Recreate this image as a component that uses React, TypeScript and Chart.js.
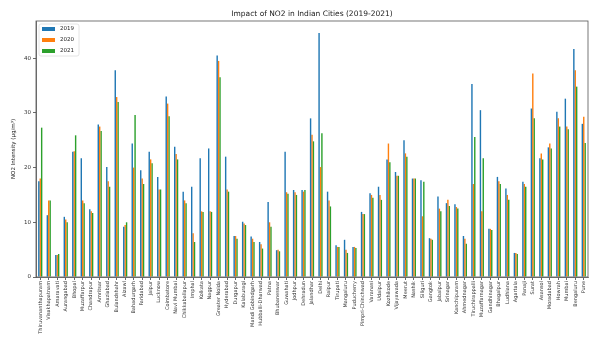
import React, { useEffect, useRef } from "react";
import { Chart, registerables } from "chart.js";

Chart.register(...registerables);

const cities = [
  "Thiruvananthapuram", "Visakhapatnam", "Amaravati", "Aurangabad", "Bhopal",
  "Muzaffarpur", "Chandrapur", "Amritsar", "Ghaziabad", "Bulandshahr",
  "Aizawl", "Bahadurgarh", "Faridabad", "Jaipur", "Lucknow",
  "Coimbatore", "Navi Mumbai", "Chikkaballapur", "Imphal", "Kolkata",
  "Nagpur", "Greater Noida", "Hyderabad", "Durgapur", "Kalaburagi",
  "Mandi Gobindgarh", "Hubballi-Dharwad", "Patna", "Bhubaneswar", "Guwahati",
  "Jodhpur", "Dehradun", "Jalandhar", "Delhi", "Raipur",
  "Tirupati", "Mangaluru", "Puducherry", "Pimpri-Chinchwad", "Varanasi",
  "Udaipur", "Kozhikode", "Vijayawada", "Meerut", "Nashik",
  "Siliguri", "Gangtok", "Jabalpur", "Srinagar", "Kanchipuram",
  "Ahmednagar", "Tiruchirappalli", "Muzaffarnagar", "Gandhinagar", "Bhagalpur",
  "Ludhiana", "Agartala", "Panaji", "Surat", "Asansol",
  "Moradabad", "Howrah", "Mumbai", "Bengaluru", "Pune",
];

const no2_2019 = [
  17.5, 11.3, 4, 11, 22.9, 21.7, 12.4, 27.9, 20.1, 37.8,
  9.2, 24.4, 19.5, 22.9, 18.3, 33, 23.8, 15.6, 16.5, 21.7,
  23.5, 40.5, 22, 7.5, 10.1, 7.4, 6.4, 13.7, 4.9, 22.9,
  15.9, 15.9, 29, 44.6, 15.6, 5.8, 6.8, 5.5, 11.9, 15.3,
  16.5, 21.5, 19.2, 25, 18, 17.7, 7.1, 14.7, 13.5, 13.3,
  7.5, 35.3, 30.5, 8.8, 18.3, 16.2, 4.4, 17.4, 30.8, 21.7,
  23.7, 30.2, 32.6, 41.7, 28,
];

const no2_2020 = [
  18, 14, 4, 10.5, 23, 14, 12, 27.5, 17.5, 32.9,
  9.5, 20, 18, 21.5, 16, 31.7, 22.5, 14, 8, 12,
  12, 39.5, 16, 7.5, 9.8, 7, 6, 10, 5, 15.5,
  15.5, 15.6, 26, 20.1, 14, 5.5, 5, 5.5, 11.5, 15,
  15, 24.4, 18.5, 22.6, 18, 11.1, 7, 12.5, 14.1, 12.8,
  7, 17, 12, 8.8, 17.5, 15, 4.4, 17, 37.2, 22.6,
  24.4, 29, 27.5, 37.8, 29.3,
];

const no2_2021 = [
  27.3, 14, 4.2, 10, 25.9, 13.5, 11.7, 26.7, 16.5, 32,
  10, 29.6, 17, 20.8, 16, 29.4, 21.5, 13.5, 6.4, 11.9,
  11.9, 36.5, 15.6, 7, 9.5, 6.4, 5.2, 9.2, 4.7, 15.2,
  15, 15.9, 24.8, 26.3, 12.9, 5.5, 4.4, 5.3, 11.5, 14.5,
  14.1, 21, 18.5, 22, 18, 17.4, 6.8, 12, 13, 12.5,
  6.1, 25.6, 21.7, 8.6, 17, 14.1, 4.2, 16.5, 29, 21.5,
  23.5, 27.5, 27, 34.8, 24.5,
];

const yearLabels = ["2019", "2020", "2021"];
const yearColors = ["#1f77b4", "#ff7f0e", "#2ca02c"];
const yTicks = [0, 10, 20, 30, 40];

const titleText = "Impact of NO2 in Indian Cities (2019-2021)";
const yAxisText = "NO2 Intensity (µg/m³)";
const FONT = "'DejaVu Sans', sans-serif";

// Frame, title, y-axis caption and in-plot legend, drawn in matplotlib style.
const decorations = {
  id: "decorations",
  afterDraw(chart: any) {
    const { ctx, chartArea } = chart;
    const { left, top, right, bottom } = chartArea;
    ctx.save();

    ctx.strokeStyle = "#555";
    ctx.lineWidth = 0.8;
    ctx.strokeRect(left, top, right - left, bottom - top);

    ctx.fillStyle = "#222";
    ctx.font = `7.5px ${FONT}`;
    ctx.textAlign = "center";
    ctx.textBaseline = "middle";
    ctx.fillText(titleText, (left + right) / 2, 14);

    ctx.save();
    ctx.translate(14, (top + bottom) / 2);
    ctx.rotate(-Math.PI / 2);
    ctx.font = `5.5px ${FONT}`;
    ctx.fillText(yAxisText, 0, 0);
    ctx.restore();

    const lx = left + 3;
    const ly = top + 3;
    ctx.fillStyle = "rgba(255,255,255,0.85)";
    ctx.strokeStyle = "#ddd";
    ctx.lineWidth = 0.8;
    ctx.beginPath();
    ctx.roundRect(lx, ly, 40, 32, 2);
    ctx.fill();
    ctx.stroke();

    ctx.font = `5.5px ${FONT}`;
    ctx.textAlign = "left";
    yearLabels.forEach((lab, i) => {
      const cy = ly + 5 + i * 11;
      ctx.fillStyle = yearColors[i];
      ctx.fillRect(lx + 3, cy - 2, 13, 4);
      ctx.fillStyle = "#222";
      ctx.fillText(lab, lx + 21, cy);
    });

    ctx.restore();
  },
};

export default function App() {
  const canvasRef = useRef<HTMLCanvasElement>(null);

  useEffect(() => {
    const canvas = canvasRef.current;
    if (!canvas) return;
    const series = [no2_2019, no2_2020, no2_2021];
    const chart = new Chart(canvas, {
      type: "bar",
      data: {
        labels: cities,
        datasets: series.map((values, i) => ({
          label: yearLabels[i],
          data: values,
          backgroundColor: yearColors[i],
          borderWidth: 0,
          categoryPercentage: 0.5,
          barPercentage: 1.0,
        })),
      },
      options: {
        responsive: false,
        animation: false,
        devicePixelRatio: 1,
        layout: { padding: { top: 21, right: 4, left: 0, bottom: 0 } },
        plugins: {
          legend: { display: false },
          title: { display: false },
          tooltip: { enabled: false },
        },
        scales: {
          x: {
            grid: {
              offset: false,
              drawOnChartArea: false,
              drawTicks: true,
              tickLength: 3,
              color: "#444",
              lineWidth: 0.8,
            },
            border: { color: "#555", width: 0.8 },
            ticks: {
              autoSkip: false,
              maxRotation: 90,
              minRotation: 90,
              padding: 1,
              color: "#333",
              font: { family: FONT, size: 5 },
            },
            afterFit(scale: any) {
              scale.height = 77;
            },
          },
          y: {
            min: 0,
            max: 46.8,
            afterBuildTicks(scale: any) {
              scale.ticks = yTicks.map((v) => ({ value: v }));
            },
            grid: {
              drawOnChartArea: false,
              drawTicks: true,
              tickLength: 3,
              color: "#444",
              lineWidth: 0.8,
            },
            border: { color: "#555", width: 0.8 },
            ticks: {
              padding: 2,
              color: "#333",
              font: { family: FONT, size: 5.5 },
            },
            afterFit(scale: any) {
              scale.width = 36;
            },
          },
        },
      },
      plugins: [decorations],
    });
    return () => chart.destroy();
  }, []);

  return (
    <div style={{ position: "fixed", left: 0, top: 0, width: 592, height: 354, background: "#fff" }}>
      <canvas ref={canvasRef} width={592} height={354} />
    </div>
  );
}
